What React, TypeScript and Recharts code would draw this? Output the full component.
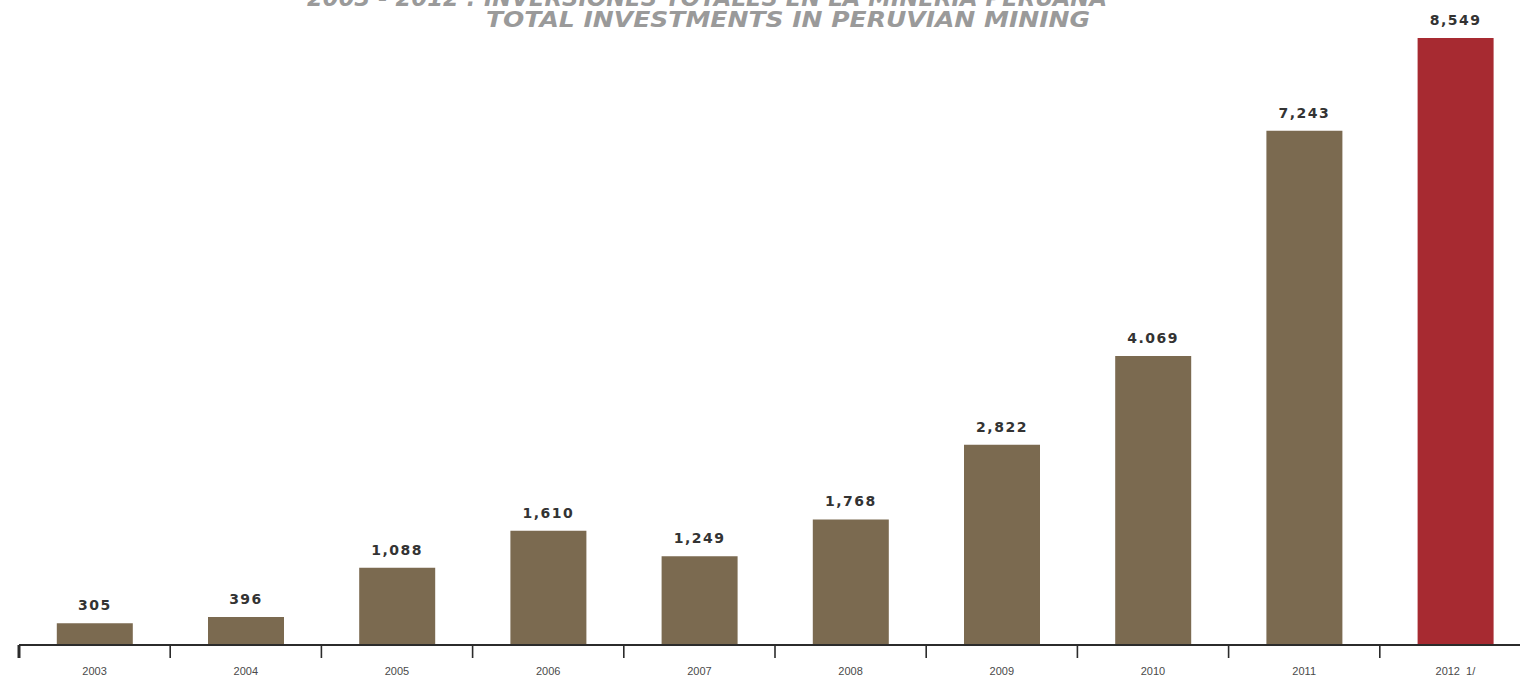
import { Bar, BarChart, Cell, LabelList, XAxis, YAxis } from "recharts";

const YEARS = ["2003", "2004", "2005", "2006", "2007", "2008", "2009", "2010", "2011", "2012  1/"];
const INVESTMENT = [305, 396, 1088, 1610, 1249, 1768, 2822, 4069, 7243, 8549];
const VALUE_LABELS = ["305", "396", "1,088", "1,610", "1,249", "1,768", "2,822", "4.069", "7,243", "8,549"];

const BROWN = "#7b6a50";
const RED = "#a72a31";
const AXIS_COLOR = "#2b2b2b";

const data = YEARS.map((year, i) => ({
  year,
  value: INVESTMENT[i],
  label: VALUE_LABELS[i],
}));

function YearTick(props: any) {
  const { x, y, payload, index } = props;
  const half = payload?.offset ?? 0;
  return (
    <g>
      <line
        x1={x - half}
        x2={x - half}
        y1={y}
        y2={y + 13}
        stroke={AXIS_COLOR}
        strokeWidth={index === 0 ? 3 : 1.6}
      />
      <text
        x={x}
        y={y + 30}
        textAnchor="middle"
        fontSize={11}
        fontFamily="Liberation Sans, Arial, sans-serif"
        fill="#4a4a4a"
        style={{ whiteSpace: "pre" }}
      >
        {payload.value}
      </text>
    </g>
  );
}

export default function App() {
  return (
    <div
      style={{
        position: "absolute",
        left: 0,
        top: 0,
        width: 1520,
        height: 680,
        overflow: "hidden",
        background: "#fff",
      }}
    >
      <svg
        width={1520}
        height={60}
        style={{ position: "absolute", left: 0, top: 0 }}
      >
        <text
          x={307}
          y={6}
          fontSize={23}
          fontWeight="bold"
          fontStyle="italic"
          fontFamily="DejaVu Sans, sans-serif"
          fill="#9a9a9a"
          textLength={800}
          lengthAdjust="spacingAndGlyphs"
        >
          2003 - 2012 : INVERSIONES TOTALES EN LA MINERÍA PERUANA
        </text>
        <text
          x={486}
          y={27}
          fontSize={21}
          fontWeight="bold"
          fontStyle="italic"
          fontFamily="DejaVu Sans, sans-serif"
          fill="#9a9a9a"
          textLength={604}
          lengthAdjust="spacingAndGlyphs"
        >
          TOTAL INVESTMENTS IN PERUVIAN MINING
        </text>
      </svg>
      <div style={{ position: "absolute", left: 0, top: 0 }}>
        <BarChart
          width={1532}
          height={680}
          data={data}
          margin={{ top: 38, right: 1, left: 19, bottom: 0 }}
          barCategoryGap="25%"
        >
          <XAxis
            dataKey="year"
            axisLine={{ stroke: AXIS_COLOR, strokeWidth: 2 }}
            tickLine={false}
            tickSize={0}
            tickMargin={0}
            height={35}
            interval={0}
            tick={<YearTick />}
          />
          <YAxis hide domain={[0, "dataMax"]} />
          <Bar dataKey="value" isAnimationActive={false}>
            {data.map((d, i) => (
              <Cell key={d.year} fill={i === data.length - 1 ? RED : BROWN} />
            ))}
            <LabelList
              dataKey="label"
              position="top"
              offset={13}
              fontSize={14}
              fontWeight="bold"
              fontFamily="DejaVu Sans, sans-serif"
              fill="#333"
              letterSpacing={1.5}
            />
          </Bar>
        </BarChart>
      </div>
    </div>
  );
}
